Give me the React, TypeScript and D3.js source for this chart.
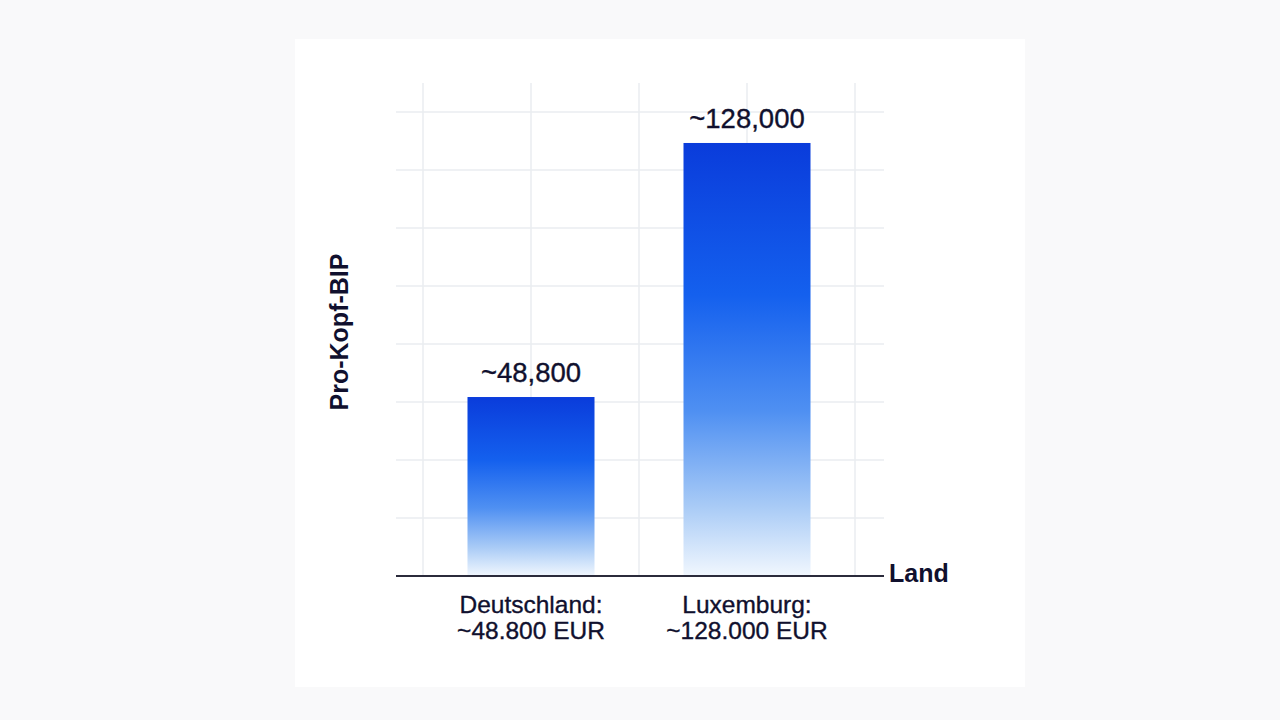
import * as d3 from "d3";
import React from "react";

// data
const countries = ["Deutschland", "Luxemburg"];
const gdpValues = [48800, 128000];
const valueLabels = ["~48,800", "~128,000"];
const categoryLines = [
	["Deutschland:", "~48.800 EUR"],
	["Luxemburg:", "~128.000 EUR"],
];
const yDomain = [-7000, 146700];
const yTitle = "Pro-Kopf-BIP";
const xTitle = "Land";

const W = 1280,
	H = 720;
const plot = { left: 396, right: 884, top: 83, bottom: 576 };
const ink = "#10102e";
const font = "'Liberation Sans', Arial, Helvetica, sans-serif";

const App = () => {
	const x = d3
		.scaleBand<string>()
		.domain(countries)
		.range([423, 855])
		.paddingInner(0.412)
		.paddingOuter(0.206);
	const y = d3
		.scaleLinear()
		.domain(yDomain)
		.range([plot.bottom, plot.top]);
	// background grid: 8.5 rows between axis and top
	const gridY = d3.scaleLinear().domain([0, 8.5]).range([plot.bottom, plot.top]);
	const rows = d3.range(1, 9);
	const step = x.step();
	const cols: number[] = [];
	countries.forEach((c, i) => {
		const cx = x(c)! + x.bandwidth() / 2;
		if (i === 0) cols.push(cx - step / 2);
		cols.push(cx, cx + step / 2);
	});

	return (
		<svg
			width={W}
			height={H}
			viewBox={`0 0 ${W} ${H}`}
			style={{ position: "absolute", left: 0, top: 0 }}
			fontFamily={font}
		>
			<defs>
				<linearGradient id="barFill" x1="0" y1="0" x2="0" y2="1">
					<stop offset="0%" stopColor="#0a3cdb" />
					<stop offset="35%" stopColor="#1460ee" />
					<stop offset="62%" stopColor="#4f90f2" />
					<stop offset="84%" stopColor="#a9cbf6" />
					<stop offset="100%" stopColor="#f1f7fe" />
				</linearGradient>
			</defs>
			<rect width={W} height={H} fill="#f9f9fa" />
			<rect x={295} y={39} width={730} height={648} fill="#ffffff" />

			<g stroke="#eaedf1" strokeWidth={1.5}>
				{rows.map((r) => (
					<line key={r} x1={plot.left} x2={plot.right} y1={gridY(r)} y2={gridY(r)} />
				))}
				{cols.map((c, i) => (
					<line key={i} x1={c} x2={c} y1={plot.top} y2={plot.bottom} />
				))}
			</g>

			{countries.map((c, i) => {
				const cx = x(c)! + x.bandwidth() / 2;
				return (
					<g key={c}>
						<rect
							x={x(c)}
							y={y(gdpValues[i])}
							width={x.bandwidth()}
							height={y(yDomain[0]) - y(gdpValues[i])}
							fill="url(#barFill)"
						/>
						<text
							x={cx}
							y={y(gdpValues[i]) - 15}
							textAnchor="middle"
							fontSize={27.5}
							fill={ink}
							stroke={ink}
							strokeWidth={0.35}
						>
							{valueLabels[i]}
						</text>
						{categoryLines[i].map((line, j) => (
							<text
								key={j}
								x={cx}
								y={613 + j * 26}
								textAnchor="middle"
								fontSize={24.5}
								fill={ink}
								stroke={ink}
								strokeWidth={0.35}
							>
								{line}
							</text>
						))}
					</g>
				);
			})}

			<line
				x1={plot.left}
				x2={plot.right}
				y1={plot.bottom}
				y2={plot.bottom}
				stroke="#2b2b3b"
				strokeWidth={2}
			/>
			<text x={889} y={582} fontSize={25} fontWeight="bold" fill={ink}>
				{xTitle}
			</text>
			<text
				transform={`translate(348,332) rotate(-90)`}
				textAnchor="middle"
				fontSize={25}
				fontWeight="bold"
				fill={ink}
			>
				{yTitle}
			</text>
		</svg>
	);
};

export default App;
